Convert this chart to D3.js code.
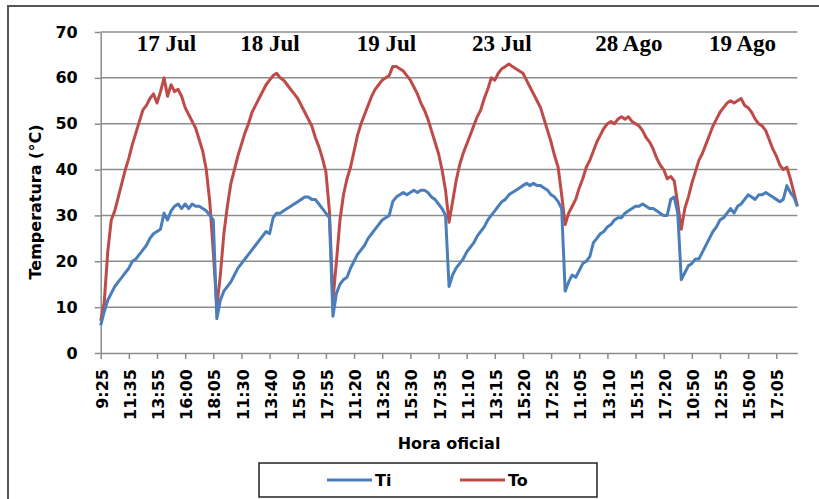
<!DOCTYPE html>
<html>
<head>
<meta charset="utf-8">
<script src="https://cdn.jsdelivr.net/npm/d3@7"></script>
<style>
  body { margin: 0; background: #fff; }
  svg { display: block; }
</style>
</head>
<body>
<svg id="chart" width="819" height="499"></svg>
<script>
// readings per day, one value every 1/8 of a label interval
const days = ["17 Jul", "18 Jul", "19 Jul", "23 Jul", "28 Ago", "19 Ago"]

const tiDay1 = [6, 9, 11.5, 13, 14.5, 15.5, 16.5, 17.5, 18.5, 20, 20.5, 21.5, 22.5, 23.5, 25, 26, 26.5, 27, 30.5, 29, 31, 32, 32.5, 31.5, 32.5, 31.5, 32.5, 32, 32, 31.5, 31, 30, 29]
const tiDay2 = [7.5, 11.5, 13.5, 14.5, 15.5, 17, 18.5, 19.5, 20.5, 21.5, 22.5, 23.5, 24.5, 25.5, 26.5, 26, 29.5, 30.5, 30.5, 31, 31.5, 32, 32.5, 33, 33.5, 34, 34, 33.5, 33.5, 32.5, 31.5, 30.5, 29.5]
const tiDay3 = [8, 13, 15, 16, 16.5, 18.5, 20, 21.5, 22.5, 23.5, 25, 26, 27, 28, 29, 29.5, 30, 33, 34, 34.5, 35, 34.5, 35, 35.5, 35, 35.5, 35.5, 35, 34, 33.5, 32.5, 31.5, 30]
const tiDay4 = [14.5, 17, 18.5, 19.5, 20.5, 22, 23, 24, 25.5, 26.5, 27.5, 29, 30, 31, 32, 33, 33.5, 34.5, 35, 35.5, 36, 36.5, 37, 36.5, 37, 36.5, 36.5, 36, 35.5, 34.5, 34, 33, 31.5]
const tiDay5 = [13.5, 15.5, 17, 16.5, 18, 19.5, 20, 21, 24, 25, 26, 26.5, 27.5, 28, 29, 29.5, 29.5, 30.5, 31, 31.5, 32, 32, 32.5, 32, 31.5, 31.5, 31, 30.5, 30, 30, 33.5, 34, 30.5]
const tiDay6 = [16, 17.5, 19, 19.5, 20.5, 20.5, 22, 23.5, 25, 26.5, 27.5, 29, 29.5, 30.5, 31.5, 30.5, 32, 32.5, 33.5, 34.5, 34, 33.5, 34.5, 34.5, 35, 34.5, 34, 33.5, 33, 33.5, 36.5, 35, 34, 32]

const toDay1 = [7, 11, 22, 29, 31, 34, 37, 40, 42.5, 45.5, 48, 50.5, 53, 54, 55.5, 56.5, 54.5, 57, 60, 56, 58.5, 57, 57.5, 56, 53.5, 52, 50.5, 49, 46.5, 44, 40, 33, 22]
const toDay2 = [10, 17, 26, 32, 37, 40, 43, 45.5, 48, 50, 52.5, 54, 55.5, 57, 58.5, 59.5, 60.5, 61, 60, 59.5, 58.5, 57.5, 56.5, 55.5, 54, 52.5, 51, 49.5, 47, 45, 42.5, 39.5, 31]
const toDay3 = [11.5, 20, 29, 34.5, 38, 40.5, 44, 47.5, 50, 52, 54, 56, 57.5, 58.5, 59.5, 60, 60.5, 62.5, 62.5, 62, 61.5, 60.5, 59.5, 58, 56.5, 54.5, 53, 51, 48.5, 46, 43.5, 40, 35.5]
const toDay4 = [28.5, 33, 37.5, 41, 43.5, 45.5, 47.5, 49.5, 51.5, 53, 55.5, 57.5, 60, 59.5, 61, 62, 62.5, 63, 62.5, 62, 61.5, 61, 59.5, 58, 56.5, 55, 53.5, 51, 48.5, 46, 43, 40.5, 34.5]
const toDay5 = [28, 30.5, 32, 33.5, 36, 38, 40.5, 42, 44, 46, 47.5, 49, 50, 50.5, 50, 51, 51.5, 51, 51.5, 50.5, 50, 49.5, 48.5, 47, 46, 44.5, 42.5, 41, 40, 38, 38.5, 37.5, 32.5]
const toDay6 = [27, 31.5, 34, 37, 39.5, 42, 43.5, 45.5, 47.5, 49.5, 51, 52.5, 53.5, 54.5, 55, 54.5, 55, 55.5, 54, 53.5, 52.5, 51, 50, 49.5, 48.5, 46.5, 44.5, 43, 41, 40, 40.5, 38, 35, 32]

const tickLabels = ["9:25", "11:35", "13:55", "16:00", "18:05", "11:30", "13:40", "15:50", "17:55",
    "11:20", "13:25", "15:30", "17:35", "11:10", "13:15", "15:20", "17:25", "11:05", "13:10",
    "15:15", "17:20", "10:50", "12:55", "15:00", "17:05"]
const yTicks = [0, 10, 20, 30, 40, 50, 60, 70]

const ti = [].concat(tiDay1, tiDay2, tiDay3, tiDay4, tiDay5, tiDay6)
const to = [].concat(toDay1, toDay2, toDay3, toDay4, toDay5, toDay6)
const perLabel = 8
// where each day name sits, in reading index
const dayLabelAt = [18.7, 48.1, 81.2, 114, 150.1, 182.4]

const svg = d3.select("#chart")
const sans = "'DejaVu Sans', sans-serif"
const plot = {left: 100.7, right: 797.4, top: 32, bottom: 353}

// outer frame
svg.append("rect")
    .attr("x", 8).attr("y", 6)
    .attr("width", 840).attr("height", 540)
    .attr("fill", "none")
    .attr("stroke", "#555")
    .attr("stroke-width", 2)

const x = d3.scaleLinear().domain([0, ti.length - 1]).range([plot.left, plot.right])
const y = d3.scaleLinear().domain([0, 70]).range([plot.bottom, plot.top])

// gridlines
svg.append("g")
    .selectAll("line")
    .data(yTicks.filter(d => d > 0))
    .enter().append("line")
    .attr("x1", plot.left).attr("x2", plot.right)
    .attr("y1", d => y(d)).attr("y2", d => y(d))
    .attr("stroke", "#8c8c8c")
    .attr("stroke-width", 1.5)

// y axis
const yAxis = svg.append("g")
    .attr("transform", "translate(" + plot.left + ",0)")
    .call(d3.axisLeft(y).tickValues(yTicks).tickSizeInner(6).tickSizeOuter(0).tickPadding(17))
yAxis.select(".domain").attr("stroke", "#8c8c8c").attr("stroke-width", 1.5)
yAxis.selectAll(".tick line").attr("stroke", "#8c8c8c").attr("stroke-width", 1.5)
yAxis.selectAll(".tick text")
    .style("font", "bold 16px " + sans)
    .attr("fill", "#000")

// x axis
const xAxis = svg.append("g")
    .attr("transform", "translate(0," + plot.bottom + ")")
    .call(d3.axisBottom(x)
        .tickValues(tickLabels.map((d, i) => i * perLabel))
        .tickFormat((d, i) => tickLabels[i])
        .tickSizeInner(6).tickSizeOuter(0))
xAxis.select(".domain").attr("stroke", "#8c8c8c").attr("stroke-width", 1.5)
xAxis.selectAll(".tick line").attr("stroke", "#8c8c8c").attr("stroke-width", 1.5)
xAxis.selectAll(".tick text")
    .attr("transform", "rotate(-90)")
    .attr("text-anchor", "end")
    .attr("x", -16)
    .attr("y", 1)
    .attr("dy", "0.35em")
    .style("font", "bold 16px " + sans)
    .attr("fill", "#000")

// axis titles
svg.append("text")
    .attr("transform", "translate(41,202) rotate(-90)")
    .attr("text-anchor", "middle")
    .style("font", "bold 16px " + sans)
    .text("Temperatura (°C)")

svg.append("text")
    .attr("x", 449).attr("y", 449)
    .attr("text-anchor", "middle")
    .style("font", "bold 16px " + sans)
    .text("Hora oficial")

// day names
svg.append("g")
    .selectAll("text")
    .data(days)
    .enter().append("text")
    .attr("x", (d, i) => x(dayLabelAt[i]))
    .attr("y", 51)
    .attr("text-anchor", "middle")
    .style("font", "bold 23px 'Liberation Serif', 'Times New Roman', serif")
    .text(d => d)

const line = d3.line()
    .x((d, i) => x(i))
    .y(d => y(d))

const series = [
    {name: "Ti", values: ti, color: "#4a7ebb"},
    {name: "To", values: to, color: "#be4b48"}
]

svg.append("g")
    .selectAll("path")
    .data(series.slice().reverse())
    .enter().append("path")
    .attr("d", d => line(d.values))
    .attr("fill", "none")
    .attr("stroke", d => d.color)
    .attr("stroke-width", 3)
    .attr("stroke-linejoin", "round")

// legend
const legend = svg.append("g")
legend.append("rect")
    .attr("x", 259).attr("y", 463)
    .attr("width", 338).attr("height", 34)
    .attr("fill", "#fff")
    .attr("stroke", "#222")
    .attr("stroke-width", 1.5)

const item = legend.selectAll(".item")
    .data(series)
    .enter().append("g")
    .attr("class", "item")
    .attr("transform", (d, i) => "translate(" + (327 + i * 133) + ",480)")
item.append("line")
    .attr("x1", 0).attr("x2", 45)
    .attr("stroke", d => d.color)
    .attr("stroke-width", 3)
item.append("text")
    .attr("x", 48).attr("y", 6)
    .style("font", "bold 16px " + sans)
    .text(d => d.name)
</script>
</body>
</html>
